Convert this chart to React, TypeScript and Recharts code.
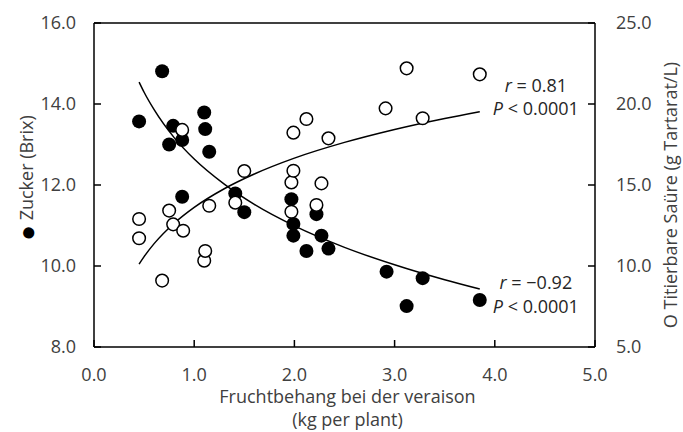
import { ComposedChart, Scatter, Line, XAxis, YAxis, ReferenceLine, ReferenceDot } from 'recharts';

// Zucker (Brix), filled markers, left axis
const sugarX = [0.45, 0.68, 0.75, 0.79, 0.88, 0.88, 1.1, 1.11, 1.15, 1.41, 1.5, 1.97, 1.99, 1.99, 2.12, 2.22, 2.27, 2.34, 2.92, 3.12, 3.28, 3.85];
const sugarY = [13.57, 14.81, 13.0, 13.46, 13.11, 11.71, 13.79, 13.38, 12.82, 11.79, 11.33, 11.65, 11.04, 10.75, 10.37, 11.28, 10.75, 10.43, 9.86, 9.01, 9.7, 9.16];

// Titrierbare Saure (g/L), open markers, right axis
const acidX = [0.45, 0.45, 0.68, 0.75, 0.79, 0.88, 0.89, 1.1, 1.11, 1.15, 1.41, 1.5, 1.97, 1.97, 1.99, 1.99, 2.12, 2.22, 2.27, 2.34, 2.91, 3.12, 3.28, 3.85];
const acidY = [12.9, 11.71, 9.1, 13.42, 12.57, 18.4, 12.18, 10.33, 10.93, 13.72, 13.91, 15.86, 15.16, 13.35, 18.23, 15.88, 19.07, 13.77, 15.1, 17.88, 19.73, 22.2, 19.12, 21.83];

// trend curves
const curveX = [0.45, 0.5, 0.6, 0.8, 1.0, 1.3, 1.6, 2.0, 2.5, 3.0, 3.5, 3.85];
const sugarCurve = [14.54, 14.29, 13.86, 13.17, 12.64, 12.02, 11.52, 10.99, 10.46, 10.03, 9.66, 9.43];
const acidCurve = [10.12, 10.58, 11.38, 12.64, 13.62, 14.77, 15.68, 16.66, 17.63, 18.43, 19.11, 19.53];

const xTicks = [0, 1, 2, 3, 4, 5];
const leftTicks = [8, 10, 12, 14, 16];
const rightTicks = [5, 10, 15, 20, 25];

const sugarPts = sugarX.map((x, i) => ({ x, y: sugarY[i] }));
const acidPts = acidX.map((x, i) => ({ x, y: acidY[i] }));
const sugarFit = curveX.map((x, i) => ({ x, y: sugarCurve[i] }));
const acidFit = curveX.map((x, i) => ({ x, y: acidCurve[i] }));

const textColor = '#404040';
const axisStyle = { stroke: '#000', strokeWidth: 1.5 };
const tickStyle = { fill: textColor, fontSize: 18 };

const FilledDot = (p: any) => <circle cx={p.cx} cy={p.cy} r={7} fill="#000" />;
const OpenDot = (p: any) => <circle cx={p.cx} cy={p.cy} r={6.3} fill="#fff" stroke="#000" strokeWidth={1.5} />;

const annot = (label: string, value: string) => (p: any) => {
  const vb = p.viewBox;
  return (
    <text x={vb.x} y={vb.y} textAnchor="middle" fill="#262626" fontSize={18}>
      <tspan fontStyle="italic">{label}</tspan>
      {value}
    </text>
  );
};

export default function App() {
  return (
    <div style={{ position: 'absolute', left: 0, top: 0, fontFamily: '"Open Sans", sans-serif' }}>
      <ComposedChart width={683} height={432} margin={{ top: 23, right: 0, bottom: 0, left: 0 }}>
        <XAxis
          type="number"
          dataKey="x"
          domain={[0, 5]}
          ticks={xTicks}
          interval={0}
          tickFormatter={(v: number) => v.toFixed(1)}
          height={85}
          tickSize={-7}
          tickMargin={28}
          axisLine={axisStyle}
          tickLine={axisStyle}
          tick={tickStyle}
          label={(p: any) => {
            const vb = p.viewBox;
            const cx = vb.x + vb.width / 2 + 3;
            return (
              <text x={cx} y={vb.y + 56} textAnchor="middle" fill={textColor} fontSize={18}>
                <tspan x={cx}>Fruchtbehang bei der veraison</tspan>
                <tspan x={cx} dy={23}>(kg per plant)</tspan>
              </text>
            );
          }}
        />
        <YAxis
          yAxisId="left"
          orientation="left"
          type="number"
          domain={[8, 16]}
          ticks={leftTicks}
          interval={0}
          tickFormatter={(v: number) => v.toFixed(1)}
          width={94}
          tickSize={-7}
          tickMargin={25}
          axisLine={axisStyle}
          tickLine={axisStyle}
          tick={tickStyle}
          label={(p: any) => {
            const vb = p.viewBox;
            const x = vb.x + 26;
            const y = vb.y + vb.height / 2 - 7;
            return (
              <text x={x} y={y} transform={`rotate(-90 ${x} ${y})`} textAnchor="middle" dominantBaseline="central" fill={textColor} fontSize={18}>
                <tspan fontSize={26} fill="#000">●</tspan> Zucker (Brix)
              </text>
            );
          }}
        />
        <YAxis
          yAxisId="right"
          orientation="right"
          type="number"
          domain={[5, 25]}
          ticks={rightTicks}
          interval={0}
          tickFormatter={(v: number) => v.toFixed(1)}
          width={88}
          tickSize={-7}
          tickMargin={28}
          axisLine={axisStyle}
          tickLine={axisStyle}
          tick={tickStyle}
          label={(p: any) => {
            const vb = p.viewBox;
            const x = vb.x + 75;
            const y = vb.y + vb.height / 2 + 10;
            return (
              <text x={x} y={y} transform={`rotate(-90 ${x} ${y})`} textAnchor="middle" dominantBaseline="central" fill={textColor} fontSize={18}>
                O Titierbare Saüre (g Tartarat/L)
              </text>
            );
          }}
        />
        <ReferenceLine yAxisId="left" y={16} stroke="#000" strokeWidth={1.5} />
        <Scatter yAxisId="left" data={sugarPts} dataKey="y" shape={FilledDot} isAnimationActive={false} />
        <Scatter yAxisId="right" data={acidPts} dataKey="y" shape={OpenDot} isAnimationActive={false} />
        <Line yAxisId="left" data={sugarFit} dataKey="y" type="monotone" stroke="#000" strokeWidth={1.5} dot={false} activeDot={false} isAnimationActive={false} />
        <Line yAxisId="right" data={acidFit} dataKey="y" type="monotone" stroke="#000" strokeWidth={1.5} dot={false} activeDot={false} isAnimationActive={false} />
        <ReferenceDot yAxisId="right" x={4.41} y={20.76} r={0} stroke="none" label={annot('r', ' = 0.81')} />
        <ReferenceDot yAxisId="right" x={4.41} y={19.32} r={0} stroke="none" label={annot('P', ' < 0.0001')} />
        <ReferenceDot yAxisId="right" x={4.41} y={8.56} r={0} stroke="none" label={annot('r', ' = −0.92')} />
        <ReferenceDot yAxisId="right" x={4.41} y={7.1} r={0} stroke="none" label={annot('P', ' < 0.0001')} />
      </ComposedChart>
    </div>
  );
}
